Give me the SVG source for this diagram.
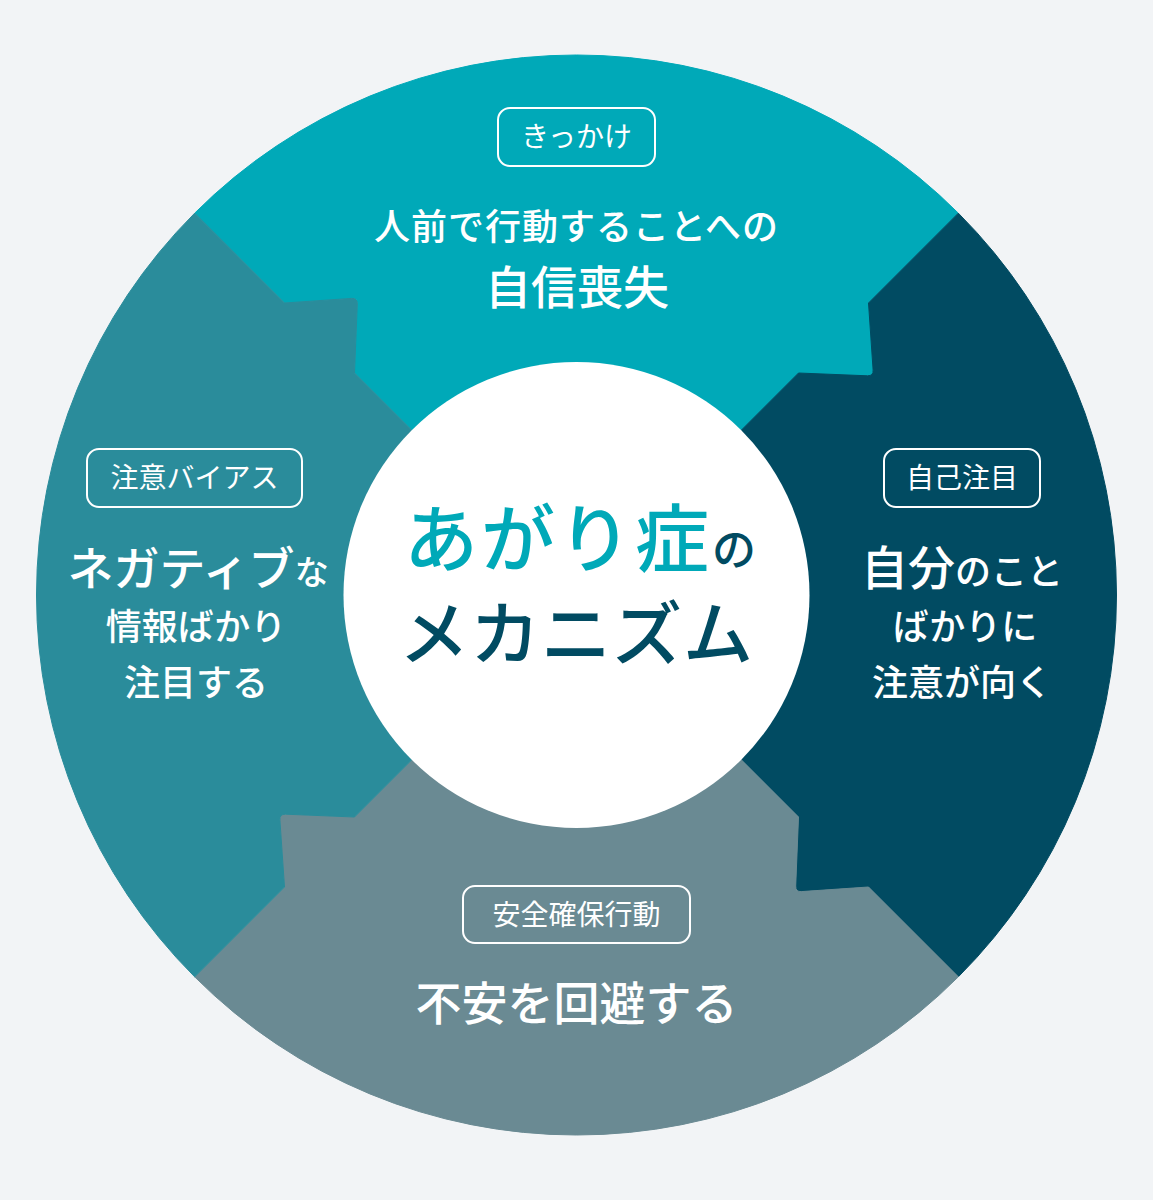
<svg xmlns="http://www.w3.org/2000/svg" width="1153" height="1200" viewBox="0 0 1153 1200">
  <defs>
    <path id="seg" d="M 0 0 L -222 -222 L -219.2 -291 Q -219 -297 -225 -296.6 L -292 -292 L -381.84 -381.84 A 540 540 0 0 1 381.84 -381.84 L 292 -292 L 296.6 -225 Q 297 -219 291 -219.2 L 222 -222 Z"/>
  </defs>
  <style>
    text { font-family: "Noto Sans CJK JP", "Noto Sans", sans-serif; font-weight: 500; fill: #ffffff; text-anchor: middle; }
    .tag { font-size: 28px; font-weight: 400; }
    .tagbox { fill: none; stroke: #ffffff; stroke-width: 2; }
    .l36 { font-size: 36px; }
    .l45 { font-size: 46px; }
    .cyan { fill: #00A9B8; }
    .dark { fill: #014B62; }
  </style>
  <rect x="0" y="0" width="1153" height="1200" fill="#F2F4F6"/>

  <g id="ring" transform="translate(576.5 595)">
    <use href="#seg" fill="#00A9B8" stroke="#00A9B8" stroke-width="1"/>
    <use href="#seg" transform="rotate(90)" fill="#014B62" stroke="#014B62" stroke-width="1"/>
    <use href="#seg" transform="rotate(180)" fill="#6A8A93" stroke="#6A8A93" stroke-width="1"/>
    <use href="#seg" transform="rotate(270)" fill="#2A8C9B" stroke="#2A8C9B" stroke-width="1"/>
  </g>

  <g id="node-top">
    <rect class="tagbox" x="498" y="108" width="157" height="58" rx="12"/>
    <text class="tag" x="576.5" y="147">きっかけ</text>
    <text class="l36" x="576.5" y="240" letter-spacing="1">人前で行動することへの</text>
    <text class="l45" x="577" y="304">自信喪失</text>
  </g>

  <g id="node-left">
    <rect class="tagbox" x="87" y="449" width="215" height="58" rx="12"/>
    <text class="tag" x="194.5" y="488">注意バイアス</text>
    <text x="198" y="585"><tspan font-size="46px">ネガティブ</tspan><tspan font-size="34px">な</tspan></text>
    <text class="l36" x="196" y="640">情報ばかり</text>
    <text class="l36" x="196" y="696">注目する</text>
  </g>

  <g id="node-right">
    <rect class="tagbox" x="884" y="449" width="156" height="58" rx="12"/>
    <text class="tag" x="962" y="488">自己注目</text>
    <text x="962" y="585"><tspan font-size="47px">自分</tspan><tspan font-size="36px">のこと</tspan></text>
    <text class="l36" x="965" y="640">ばかりに</text>
    <text class="l36" x="962" y="696">注意が向く</text>
  </g>

  <g id="node-bottom">
    <rect class="tagbox" x="463" y="886" width="227" height="57" rx="12"/>
    <text class="tag" x="576.5" y="925">安全確保行動</text>
    <text class="l45" x="576.5" y="1020">不安を回避する</text>
  </g>

  <g id="node-center">
    <circle cx="576.5" cy="595" r="233" fill="#ffffff"/>
    <text x="580" y="566"><tspan class="cyan" font-size="74px" letter-spacing="3">あがり症</tspan><tspan class="dark" font-size="44px">の</tspan></text>
    <text class="dark" x="576.5" y="660" font-size="70px" letter-spacing="1">メカニズム</text>
  </g>

  <g id="connectors"></g>
</svg>
